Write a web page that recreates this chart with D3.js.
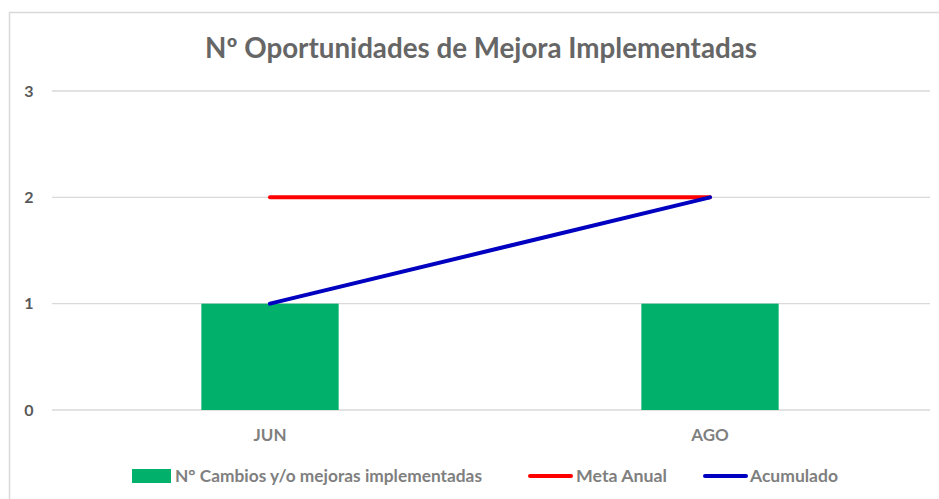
<!DOCTYPE html>
<html><head><meta charset="utf-8">
<script src="https://cdn.jsdelivr.net/npm/d3@7"></script>
<style>body{margin:0;background:#fff;}svg{display:block;}</style>
</head><body>
<svg id="c" width="939" height="499"></svg>
<script>
const categories = ["JUN", "AGO"];
const cambios = [1, 1];
const metaAnual = [2, 2];
const acumulado = [1, 2];
const yTicks = [0, 1, 2, 3];
const titleText = "Nº Oportunidades de Mejora Implementadas";
const legendLabels = ["N° Cambios y/o mejoras implementadas", "Meta Anual", "Acumulado"];

const svg = d3.select("#c");
const font = "Lato, 'Open Sans', sans-serif";
// chart border
svg.append("rect").attr("x", 9.5).attr("y", 12.5).attr("width", 940).attr("height", 500)
  .attr("fill", "#fff").attr("stroke", "#d9d9d9").attr("stroke-width", 1.5);

const x = d3.scaleBand().domain(categories).range([50, 930]).paddingInner(0.688).paddingOuter(0.344);
const y = d3.scaleLinear().domain([0, 3]).range([410, 91]);

// gridlines
svg.append("g").selectAll("line").data(yTicks).join("line")
  .attr("x1", 52).attr("x2", 930).attr("y1", d => y(d)).attr("y2", d => y(d))
  .attr("stroke", "#d9d9d9").attr("stroke-width", 1.3);

// y axis labels
svg.append("g").selectAll("text").data(yTicks).join("text")
  .attr("x", 29).attr("y", d => y(d)).attr("dy", "0.36em").attr("text-anchor", "middle")
  .attr("font-family", font).attr("font-weight", "bold").attr("font-size", 16).attr("fill", "#595959")
  .text(d => d);

// bars
svg.append("g").selectAll("rect").data(categories).join("rect")
  .attr("x", d => x(d)).attr("width", x.bandwidth())
  .attr("y", (d, i) => y(cambios[i])).attr("height", (d, i) => y(0) - y(cambios[i]))
  .attr("fill", "#00b06b");

const cx = d => x(d) + x.bandwidth() / 2;
const line = d3.line().x(d => cx(d[0])).y(d => y(d[1]));
svg.append("path").datum(categories.map((c, i) => [c, metaAnual[i]]))
  .attr("d", line).attr("fill", "none").attr("stroke", "#ff0000").attr("stroke-width", 4).attr("stroke-linecap", "round");
svg.append("path").datum(categories.map((c, i) => [c, acumulado[i]]))
  .attr("d", line).attr("fill", "none").attr("stroke", "#0000c0").attr("stroke-width", 4).attr("stroke-linecap", "round");

// x labels
svg.append("g").selectAll("text").data(categories).join("text")
  .attr("x", d => cx(d)).attr("y", 435).attr("dy", "0.36em").attr("text-anchor", "middle")
  .attr("font-family", font).attr("font-weight", "bold").attr("font-size", 17).attr("fill", "#7f7f7f")
  .text(d => d);

// title
svg.append("text").attr("x", 481).attr("y", 48).attr("dy", "0.36em").attr("text-anchor", "middle")
  .attr("font-family", font).attr("font-weight", "bold").attr("font-size", 28).attr("fill", "#666666")
  .attr("textLength", 552).attr("lengthAdjust", "spacingAndGlyphs")
  .text(titleText);

// legend
const lg = svg.append("g").attr("font-family", font).attr("font-weight", "bold").attr("font-size", 17).attr("fill", "#7f7f7f");
lg.append("rect").attr("x", 132).attr("y", 469).attr("width", 39).attr("height", 14).attr("fill", "#00b06b");
lg.append("text").attr("x", 175).attr("y", 476).attr("dy", "0.36em")
  .attr("textLength", 307).attr("lengthAdjust", "spacingAndGlyphs").text(legendLabels[0]);
lg.append("line").attr("x1", 530).attr("x2", 571).attr("y1", 476).attr("y2", 476).attr("stroke", "#ff0000").attr("stroke-width", 4).attr("stroke-linecap", "round");
lg.append("text").attr("x", 576).attr("y", 476).attr("dy", "0.36em")
  .attr("textLength", 91).attr("lengthAdjust", "spacingAndGlyphs").text(legendLabels[1]);
lg.append("line").attr("x1", 705).attr("x2", 746).attr("y1", 476).attr("y2", 476).attr("stroke", "#0000c0").attr("stroke-width", 4).attr("stroke-linecap", "round");
lg.append("text").attr("x", 750).attr("y", 476).attr("dy", "0.36em")
  .attr("textLength", 88).attr("lengthAdjust", "spacingAndGlyphs").text(legendLabels[2]);
</script>
</body></html>
